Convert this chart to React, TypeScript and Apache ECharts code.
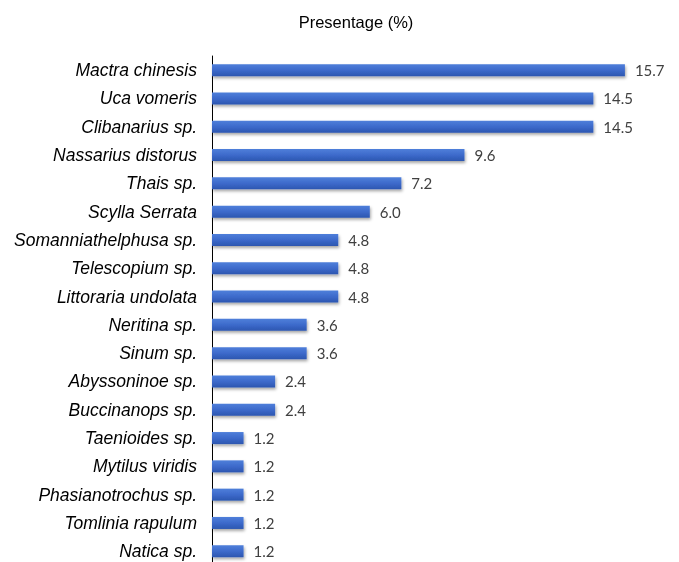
import React, { useEffect, useRef } from "react";
import * as echarts from "echarts";

const categories = [
  "Mactra chinesis",
  "Uca vomeris",
  "Clibanarius sp.",
  "Nassarius distorus",
  "Thais sp.",
  "Scylla Serrata",
  "Somanniathelphusa sp.",
  "Telescopium sp.",
  "Littoraria undolata",
  "Neritina sp.",
  "Sinum sp.",
  "Abyssoninoe sp.",
  "Buccinanops sp.",
  "Taenioides sp.",
  "Mytilus viridis",
  "Phasianotrochus sp.",
  "Tomlinia rapulum",
  "Natica sp.",
];
const values = [15.7, 14.5, 14.5, 9.6, 7.2, 6.0, 4.8, 4.8, 4.8, 3.6, 3.6, 2.4, 2.4, 1.2, 1.2, 1.2, 1.2, 1.2];
const title = "Presentage (%)";

export default function App() {
  const ref = useRef<HTMLDivElement>(null);
  useEffect(() => {
    if (!ref.current) return;
    const chart = echarts.init(ref.current, null, { renderer: "svg" });
    chart.setOption({
      animation: false,
      title: {
        text: title,
        left: 351,
        textAlign: "center",
        top: 8,
        textStyle: { fontFamily: "Liberation Sans, Arial", fontSize: 16.5, fontWeight: "normal", color: "#000" },
      },
      grid: { left: 212, top: 56, width: 420.8, height: 509.4 },
      xAxis: { type: "value", min: 0, max: 16, show: false },
      yAxis: {
        type: "category",
        data: categories,
        inverse: true,
        axisLine: { show: true, lineStyle: { color: "#000", width: 1 } },
        axisTick: { show: false },
        axisLabel: {
          margin: 15,
          fontFamily: "Liberation Sans, Arial",
          fontStyle: "italic",
          fontSize: 17.5,
          color: "#000",
        },
      },
      series: [
        {
          type: "bar",
          data: values,
          barWidth: 12,
          itemStyle: {
            color: new echarts.graphic.LinearGradient(0, 0, 0, 1, [
              { offset: 0, color: "#4F7FDA" },
              { offset: 0.5, color: "#3D6ACB" },
              { offset: 1, color: "#2C56B0" },
            ]),
            shadowColor: "rgba(0,0,0,0.35)",
            shadowBlur: 3,
            shadowOffsetX: 1,
            shadowOffsetY: 2,
          },
          label: {
            show: true,
            position: "right",
            distance: 10,
            formatter: (p: any) => p.value.toFixed(1),
            fontFamily: "Lato, Open Sans, sans-serif",
            fontSize: 15,
            color: "#404040",
          },
        },
      ],
    });
    return () => chart.dispose();
  }, []);
  return <div ref={ref} style={{ position: "fixed", left: 0, top: 0, width: 679, height: 570 }} />;
}
